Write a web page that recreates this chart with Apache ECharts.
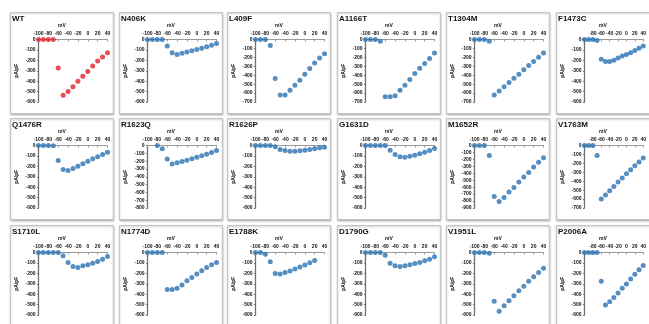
<!DOCTYPE html>
<html>
<head>
<meta charset="utf-8">
<script src="https://cdn.jsdelivr.net/npm/echarts@6/dist/echarts.min.js"></script>
<style>
  html, body { margin: 0; padding: 0; background: #fff; }
  #chart { width: 649px; height: 324px; }
</style>
</head>
<body>
<div id="chart"></div>
<script>
// test potentials (mV)
const voltages = [-100, -90, -80, -70, -60, -50, -40, -30, -20, -10, 0, 10, 20, 30, 40];
const xTicks = { min: -100, max: 40, interval: 20 };

const mutants = [
  'WT', 'N406K', 'L409F', 'A1166T', 'T1304M', 'F1473C',
  'Q1476R', 'R1623Q', 'R1626P', 'G1631D', 'M1652R', 'V1763M',
  'S1710L', 'N1774D', 'E1788K', 'D1790G', 'V1951L', 'P2006A'
];

// lowest y tick of each panel (pA/pF)
const yFloors = [
  -600, -600, -700, -700, -700, -600,
  -600, -800, -600, -600, -900, -700,
  -600, -600, -600, -600, -600, -600
];

// current density per mutant, one value per test potential
const wt     = [0, 0, 0, 0, -273, -536, -498, -454, -400, -352, -308, -254, -207, -169, -127];
const n406k  = [0, 0, 0, 0, -62, -127, -143, -132, -120, -108, -96, -83, -70, -55, -38];
const l409f  = [0, 0, 0, -67, -437, -622, -622, -567, -511, -456, -389, -326, -263, -207, -159];
const a1166t = [0, 0, 0, -19, -641, -641, -630, -567, -511, -448, -381, -322, -270, -214, -152];
const t1304m = [0, 0, 0, -19, -622, -578, -530, -482, -435, -388, -340, -292, -245, -198, -152];
const f1473c = [0, 0, 0, -10, -190, -210, -210, -200, -178, -159, -143, -127, -105, -83, -62];
const q1476r = [0, 0, 0, -3, -144, -231, -241, -221, -199, -176, -151, -128, -109, -87, -64];
const r1623q = [null, null, 0, -43, -172, -236, -222, -205, -188, -170, -151, -132, -112, -90, -65];
const r1626p = [0, 0, 0, 0, -13, -38, -48, -54, -54, -51, -45, -38, -32, -22, -16];
const g1631d = [0, 0, 0, 0, 0, -45, -87, -109, -112, -103, -93, -80, -64, -48, -29];
const m1652r = [0, 0, 0, -145, -735, -807, -749, -671, -604, -526, -454, -387, -309, -242, -178];
const v1763m = [0, 0, 0, -113, -598, -553, -508, -459, -410, -364, -316, -271, -226, -184, -140];
const s1710l = [0, 0, 0, 0, 0, -32, -96, -134, -144, -128, -118, -102, -86, -64, -38];
const n1774d = [0, 0, 0, 0, -356, -356, -344, -312, -271, -239, -207, -175, -144, -118, -96];
const e1788k = [0, 0, -16, -89, -201, -207, -193, -177, -158, -139, -119, -98, -76, null, null];
const d1790g = [0, 0, 0, 0, -26, -102, -128, -134, -128, -118, -105, -96, -80, -64, -41];
const v1951l = [0, 0, 0, -6, -469, -565, -510, -463, -415, -367, -325, -277, -233, -191, -150];
const p2006a = [0, 0, 0, 0, -277, -504, -472, -431, -389, -344, -303, -255, -208, -166, -125];

const currents = [
  wt, n406k, l409f, a1166t, t1304m, f1473c,
  q1476r, r1623q, r1626p, g1631d, m1652r, v1763m,
  s1710l, n1774d, e1788k, d1790g, v1951l, p2006a
];

// --------------
const colLeft = [10, 119, 227, 337, 446, 556];
const rowTop = [12, 118, 225];
const font = 'Liberation Sans, Arial, sans-serif';

const grids = [];
const xAxes = [];
const yAxes = [];
const series = [];
const boxes = [];

mutants.forEach((name, i) => {
  const left = colLeft[i % 6];
  const top = rowTop[Math.floor(i / 6)];

  boxes.push({
    type: 'rect',
    z: -10,
    shape: { x: left + 0.5, y: top + 0.5, width: 103, height: 101 },
    style: {
      fill: '#fff',
      stroke: '#c6c6c6',
      lineWidth: 1,
      shadowBlur: 2,
      shadowOffsetY: 1,
      shadowColor: 'rgba(0,0,0,0.25)',
    },
  });
  boxes.push({
    type: 'text',
    z: 10,
    x: left + 2,
    y: top + 7,
    style: {
      text: name,
      font: 'bold 8px ' + font,
      fill: '#111',
      verticalAlign: 'middle',
    },
  });

  grids.push({ left: left + 28.5, top: top + 27.5, width: 69, height: 62.5 });

  xAxes.push({
    gridIndex: i,
    type: 'value',
    position: 'top',
    min: xTicks.min,
    max: xTicks.max,
    interval: xTicks.interval,
    name: 'mV',
    nameLocation: 'middle',
    nameGap: 11,
    nameTextStyle: { fontSize: 5, fontWeight: 'bold', color: '#111', fontFamily: font, padding: [0, 22, 0, 0] },
    axisLine: { onZero: false, lineStyle: { color: '#9a9a9a', width: 1 } },
    axisTick: { show: true, inside: true, length: 2, lineStyle: { color: '#9a9a9a' } },
    axisLabel: { fontSize: 5, fontWeight: 'bold', color: '#111', margin: 3, fontFamily: font },
    splitLine: { show: false },
  });

  yAxes.push({
    gridIndex: i,
    type: 'value',
    min: yFloors[i],
    max: 0,
    interval: 100,
    name: 'pA/pF',
    nameLocation: 'middle',
    nameGap: 19,
    nameRotate: 90,
    nameTextStyle: { fontSize: 5, fontWeight: 'bold', color: '#111', fontFamily: font },
    axisLine: { show: true, onZero: false, lineStyle: { color: '#707070', width: 1.3 } },
    axisTick: { show: true, length: 1.5, lineStyle: { color: '#707070' } },
    axisLabel: { fontSize: 5, fontWeight: 'bold', color: '#111', margin: 3, fontFamily: font },
    splitLine: { show: false },
  });

  series.push({
    type: 'scatter',
    name: name,
    xAxisIndex: i,
    yAxisIndex: i,
    symbol: 'circle',
    symbolSize: 5,
    itemStyle: { color: i === 0 ? '#e02228' : '#2a72b2' },
    data: voltages
      .map((v, k) => (currents[i][k] == null ? null : [v, currents[i][k]]))
      .filter(Boolean),
  });
});

const chart = echarts.init(document.getElementById('chart'), null, { renderer: 'canvas' });
chart.setOption({
  animation: false,
  backgroundColor: '#fff',
  graphic: { elements: boxes },
  grid: grids,
  xAxis: xAxes,
  yAxis: yAxes,
  series: series,
});
</script>
</body>
</html>
